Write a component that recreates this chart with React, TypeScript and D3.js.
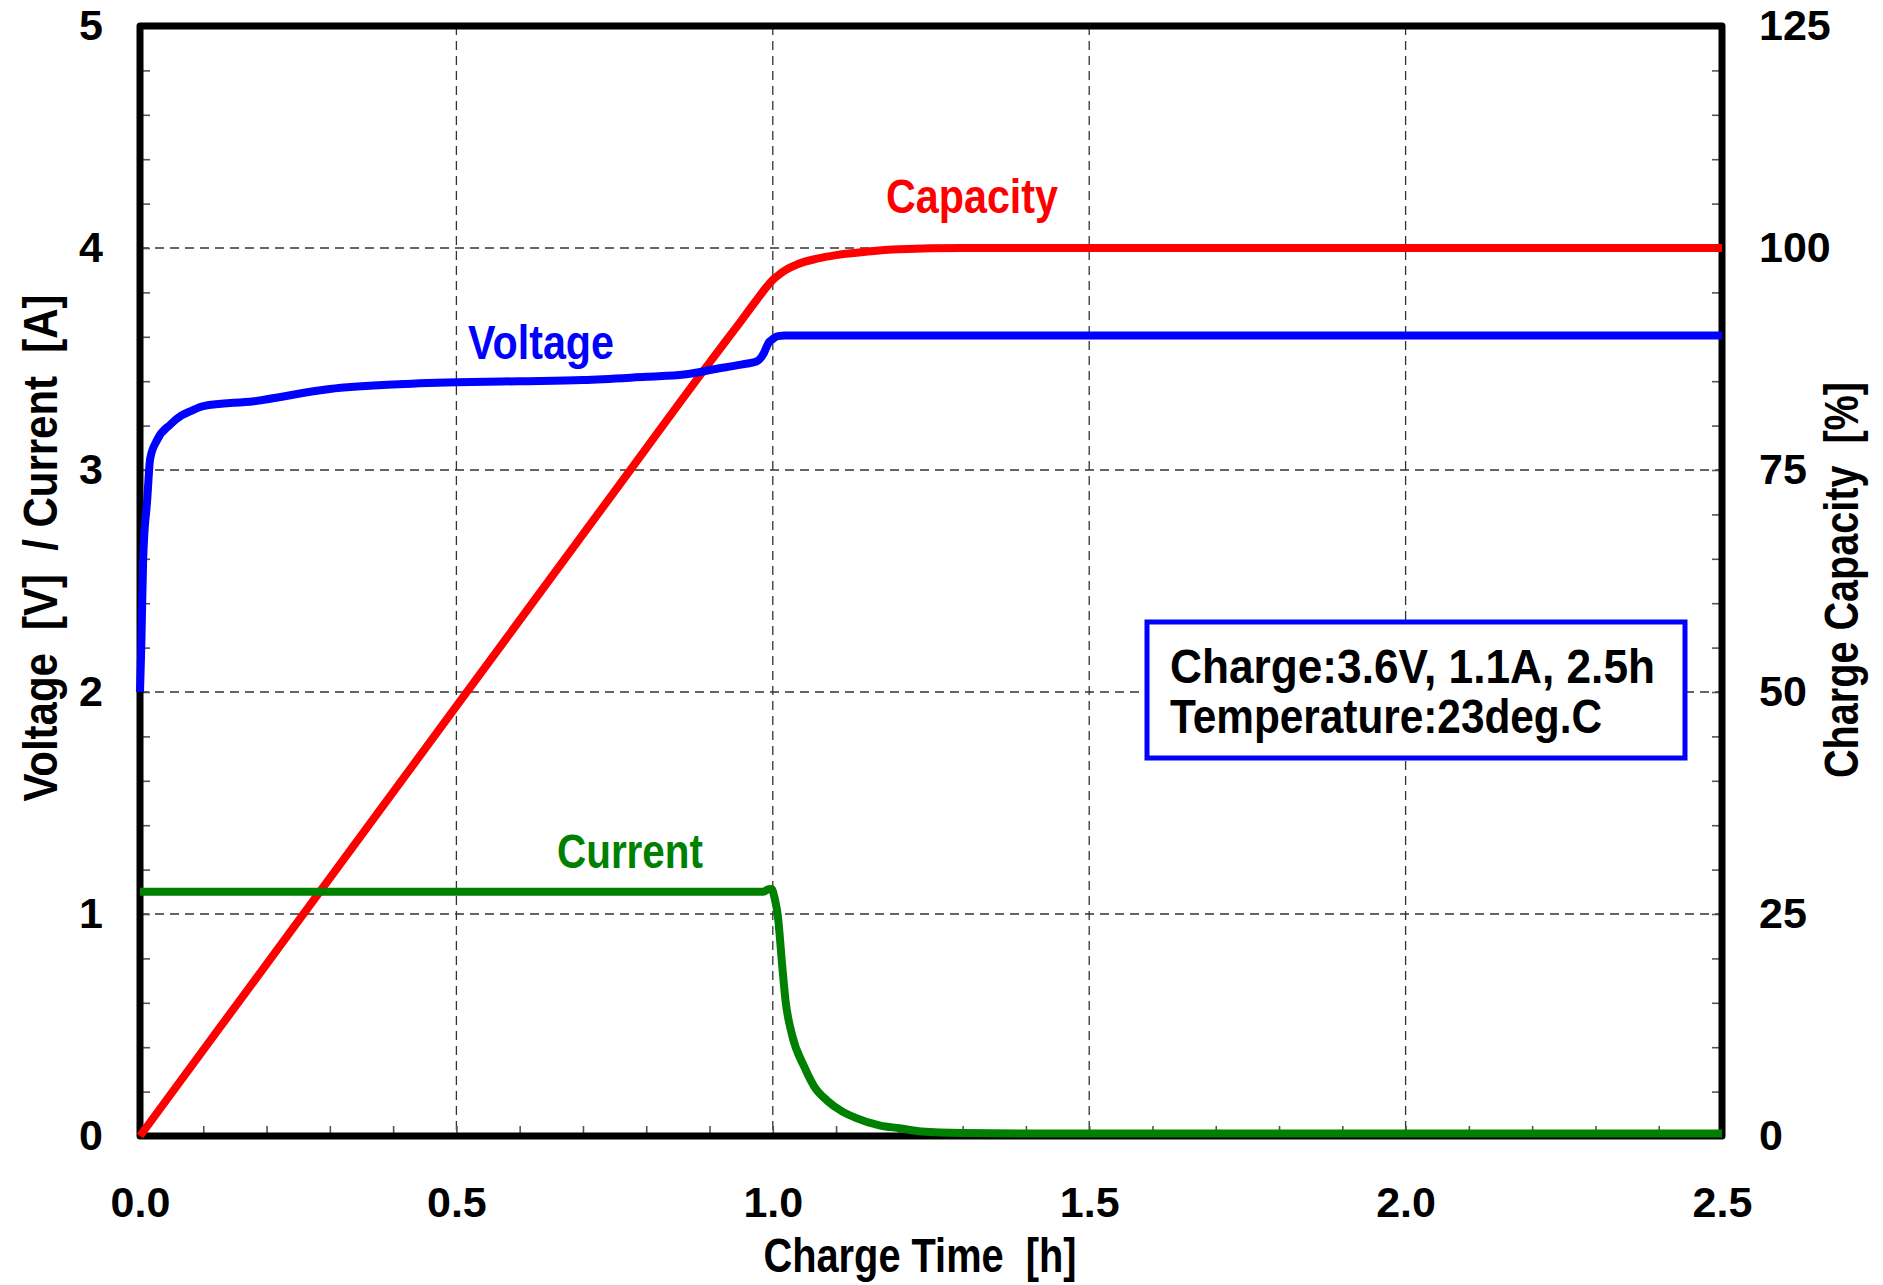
import { useEffect, useRef } from 'react';
import * as d3 from 'd3';

// charge time [h] / voltage [V]
const voltageTime = [0, 0.002, 0.005, 0.0115, 0.016, 0.027, 0.048, 0.065, 0.08, 0.1, 0.18, 0.3, 0.4, 0.5, 0.6, 0.7, 0.8, 0.86, 0.91, 0.95, 0.975, 0.986, 0.993, 1.0, 1.008, 1.02, 2.5];
const voltageValues = [2.0, 2.2, 2.6, 2.87, 3.05, 3.135, 3.205, 3.245, 3.265, 3.288, 3.31, 3.365, 3.385, 3.395, 3.4, 3.405, 3.42, 3.43, 3.455, 3.475, 3.49, 3.527, 3.572, 3.59, 3.603, 3.606, 3.606];

// charge time [h] / capacity [%]
const capacityTime = [0, 0.25, 0.5, 0.75, 0.9, 0.95, 0.975, 0.99, 1.0, 1.01, 1.02, 1.04, 1.07, 1.1, 1.15, 1.2, 1.3, 2.5];
const capacityValues = [0, 24.2, 48.4, 72.6, 87.1, 91.8, 94.2, 95.6, 96.4, 97.0, 97.5, 98.2, 98.8, 99.2, 99.6, 99.85, 100, 100];

// charge time [h] / current [A]
const currentTime = [0, 0.985, 0.993, 0.998, 1.003, 1.008, 1.015, 1.02, 1.03, 1.05, 1.065, 1.086, 1.11, 1.13, 1.17, 1.2, 1.235, 1.3, 1.4, 2.5];
const currentValues = [1.1, 1.1, 1.112, 1.113, 1.07, 0.99, 0.763, 0.612, 0.46, 0.31, 0.225, 0.159, 0.11, 0.083, 0.047, 0.035, 0.02, 0.013, 0.011, 0.011];

const xTicks = [0, 0.5, 1.0, 1.5, 2.0, 2.5];
const leftTicks = [0, 1, 2, 3, 4, 5];
const rightTicks = [0, 25, 50, 75, 100, 125];
const noteLines = ['Charge:3.6V, 1.1A, 2.5h', 'Temperature:23deg.C'];

const W = 1883;
const H = 1285;
const NUM_FONT = "'Liberation Sans', Arial, sans-serif";
const TXT_FONT = "'Liberation Sans Narrow', 'Arial Narrow', 'Liberation Sans', Arial, sans-serif";

export default function App() {
  const svgRef = useRef<SVGSVGElement>(null);

  useEffect(() => {
    if (!svgRef.current) return;
    const svg = d3.select(svgRef.current);
    svg.selectAll('*').remove();

    const x = d3.scaleLinear().domain([0, 2.5]).range([140, 1722]);
    const yL = d3.scaleLinear().domain([0, 5]).range([1136, 26]);
    const yR = d3.scaleLinear().domain([0, 125]).range([1136, 26]);

    svg.append('rect').attr('width', W).attr('height', H).attr('fill', '#fff');

    // dashed grid
    const grid = svg.append('g').attr('stroke', '#333').attr('stroke-width', 1.3).attr('stroke-dasharray', '9,6');
    grid.selectAll('.gx')
      .data(xTicks.slice(1, -1))
      .enter().append('line')
      .attr('x1', d => x(d)).attr('x2', d => x(d))
      .attr('y1', yL(5)).attr('y2', yL(0));
    grid.selectAll('.gy')
      .data(leftTicks.slice(1, -1))
      .enter().append('line')
      .attr('x1', x(0)).attr('x2', x(2.5))
      .attr('y1', d => yL(d)).attr('y2', d => yL(d));

    // minor ticks, pointing inward
    const styleTicks = (g: d3.Selection<SVGGElement, unknown, null, undefined>) => {
      g.select('.domain').remove();
      g.selectAll('line').attr('stroke', '#555').attr('stroke-width', 1.6);
    };
    svg.append('g')
      .attr('transform', `translate(${x(0)},0)`)
      .call(d3.axisLeft(yL).tickValues(d3.range(0, 26).map(i => i * 0.2)).tickSize(-10).tickFormat(() => ''))
      .call(styleTicks);
    svg.append('g')
      .attr('transform', `translate(${x(2.5)},0)`)
      .call(d3.axisRight(yR).tickValues(d3.range(0, 26).map(i => i * 5)).tickSize(-10).tickFormat(() => ''))
      .call(styleTicks);
    svg.append('g')
      .attr('transform', `translate(0,${yL(0)})`)
      .call(d3.axisBottom(x).tickValues(d3.range(0, 26).map(i => i * 0.1)).tickSize(-10).tickFormat(() => ''))
      .call(styleTicks);

    // tick labels
    const styleLabels = (g: d3.Selection<SVGGElement, unknown, null, undefined>) => {
      g.select('.domain').remove();
      g.selectAll('line').remove();
      g.selectAll('text')
        .attr('font-family', NUM_FONT)
        .attr('font-weight', 'bold')
        .attr('font-size', 43)
        .attr('fill', '#000');
    };
    svg.append('g')
      .attr('transform', `translate(${x(0)},0)`)
      .call(d3.axisLeft(yL).tickValues(leftTicks).tickSize(0).tickPadding(37).tickFormat(d3.format('d')))
      .call(styleLabels);
    svg.append('g')
      .attr('transform', `translate(${x(2.5)},0)`)
      .call(d3.axisRight(yR).tickValues(rightTicks).tickSize(0).tickPadding(37).tickFormat(d3.format('d')))
      .call(styleLabels);
    svg.append('g')
      .attr('transform', `translate(0,${yL(0)})`)
      .call(d3.axisBottom(x).tickValues(xTicks).tickSize(0).tickPadding(50).tickFormat(d3.format('.1f')))
      .call(styleLabels);

    // frame
    svg.append('rect')
      .attr('x', x(0)).attr('y', yL(5))
      .attr('width', x(2.5) - x(0)).attr('height', yL(0) - yL(5))
      .attr('fill', 'none').attr('stroke', '#000').attr('stroke-width', 7)
      .attr('stroke-linejoin', 'round');

    // condition box
    svg.append('rect')
      .attr('x', 1147).attr('y', 622).attr('width', 538).attr('height', 136)
      .attr('fill', '#fff').attr('stroke', '#0000ff').attr('stroke-width', 5);

    // series
    const lineL = d3.line<[number, number]>()
      .x(d => x(d[0])).y(d => yL(d[1])).curve(d3.curveMonotoneX);
    const lineR = d3.line<[number, number]>()
      .x(d => x(d[0])).y(d => yR(d[1])).curve(d3.curveMonotoneX);

    const series = [
      { pts: d3.zip(capacityTime, capacityValues) as [number, number][], color: '#ff0000', gen: lineR },
      { pts: d3.zip(voltageTime, voltageValues) as [number, number][], color: '#0000ff', gen: lineL },
      { pts: d3.zip(currentTime, currentValues) as [number, number][], color: '#008000', gen: lineL },
    ];
    series.forEach(s => {
      svg.append('path')
        .attr('d', s.gen(s.pts))
        .attr('fill', 'none')
        .attr('stroke', s.color)
        .attr('stroke-width', 8)
        .attr('stroke-linejoin', 'round');
    });

    // text helper for the condensed labels
    const label = (
      txt: string, tx: number, ty: number, len: number,
      color: string, anchor: string, rotate = false
    ) => {
      svg.append('text')
        .attr('transform', `translate(${tx},${ty})${rotate ? ' rotate(-90)' : ''}`)
        .attr('text-anchor', anchor)
        .attr('font-family', TXT_FONT)
        .attr('font-weight', 'bold')
        .attr('font-size', 49)
        .attr('fill', color)
        .attr('textLength', len)
        .attr('lengthAdjust', 'spacingAndGlyphs')
        .style('white-space', 'pre')
        .text(txt);
    };

    label('Capacity', 886, 213, 172, '#ff0000', 'start');
    label('Voltage', 468, 359, 146, '#0000ff', 'start');
    label('Current', 557, 868, 146, '#008000', 'start');

    label(noteLines[0], 1170, 683, 485, '#000', 'start');
    label(noteLines[1], 1170, 733, 432, '#000', 'start');

    label('Charge Time  [h]', 920, 1272, 313, '#000', 'middle');
    label('Voltage  [V]  / Current  [A]', 57, 548, 507, '#000', 'middle', true);
    label('Charge Capacity  [%]', 1858, 580, 396, '#000', 'middle', true);
  }, []);

  return (
    <svg
      ref={svgRef}
      width={W}
      height={H}
      style={{ position: 'absolute', left: 0, top: 0, display: 'block' }}
    />
  );
}
